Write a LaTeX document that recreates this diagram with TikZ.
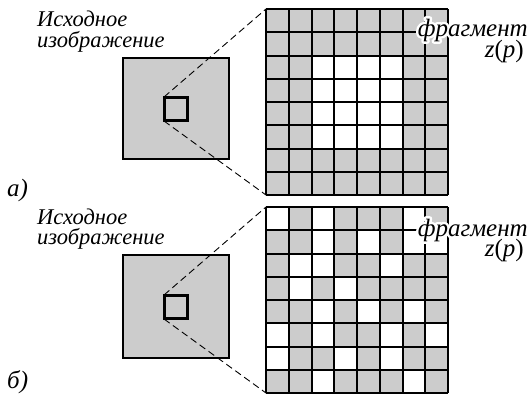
\documentclass[tikz,border=0pt]{standalone}
\usepackage{fontspec}
\setmainfont{Liberation Serif}
\definecolor{cellgray}{RGB}{204,204,204}
\tikzset{
  txt/.style={inner sep=0pt, font=\fontsize{22.5}{24}\selectfont\itshape},
  bigtxt/.style={inner sep=0pt, font=\fontsize{25}{27}\selectfont\itshape},
  bigsq/.style={draw=black, line width=2pt, fill=cellgray},
  smallsq/.style={draw=black, line width=2pt},
  gridline/.style={draw=black, line width=2pt},
  zoomline/.style={draw=black, line width=0.9pt, dash pattern=on 7pt off 4pt},
}
% text with a white outline (halo) drawn in one node
\newcommand{\halo}[1]{%
  \rlap{\color{white}\special{pdf:code q 2 Tr 1 1 1 RG 5 w 1 j 1 J}#1\special{pdf:code Q}}#1}
\begin{document}
\begin{tikzpicture}[x=1pt,y=-1pt]
\useasboundingbox (0,0) rectangle (528,399);
\def\cw{22.75}
\def\ch{23.25}
% ---------- panel a ----------
\node[bigsq, minimum width=106pt, minimum height=101pt, inner sep=0pt, anchor=north west] (Sa) at (122,57) {};
\coordinate (GaTL) at (266,9);
\coordinate (GaBL) at (266,195);
\fill[cellgray] (266,9) rectangle (448,195);
\foreach \r in {3,...,6} \foreach \c in {3,...,6}
  \fill[white] ({266+(\c-1)*\cw},{9+(\r-1)*\ch}) rectangle ++(\cw,\ch);
\foreach \i in {0,...,8} {
  \draw[gridline] ({266+\i*\cw},9) -- ({266+\i*\cw},195);
  \draw[gridline] (266,{9+\i*\ch}) -- (448,{9+\i*\ch});
}
\node[smallsq, minimum width=22pt, minimum height=22pt, inner sep=0pt, anchor=north west] (sa) at (164,97) {};
\draw[zoomline] (sa.north west) -- (GaTL);
\draw[zoomline] (sa.south west) -- (GaBL);
\draw[smallsq] (sa.north west) rectangle (sa.south east);
\node[txt, anchor=base west] (ia1) at (37,26) {Исходное};
\node[txt, anchor=base west] (ia2) at (37,47) {изображение};
\node[bigtxt, anchor=base east] (fa) at (528,36) {\halo{фрагмент}};
\node[bigtxt, anchor=base east] (za) at (524,57) {z\upshape(\itshape p\upshape)};
\node[bigtxt, anchor=base west] (la) at (7,196) {а)};
% ---------- panel b ----------
\node[bigsq, minimum width=106pt, minimum height=103pt, inner sep=0pt, anchor=north west] (Sb) at (122,254) {};
\coordinate (GbTL) at (266,207);
\coordinate (GbBL) at (266,393);
\fill[cellgray] (266,207) rectangle (448,393);
\foreach \r/\c in {1/1,1/3,1/7,2/3,2/5,2/7,2/8,3/2,3/3,3/6,4/2,4/4,5/3,5/5,5/7,6/1,6/3,6/6,6/8,7/1,7/4,7/6,8/3,8/7}
  \fill[white] ({266+(\c-1)*\cw},{207+(\r-1)*\ch}) rectangle ++(\cw,\ch);
\foreach \i in {0,...,8} {
  \draw[gridline] ({266+\i*\cw},207) -- ({266+\i*\cw},393);
  \draw[gridline] (266,{207+\i*\ch}) -- (448,{207+\i*\ch});
}
\node[smallsq, minimum width=22pt, minimum height=22pt, inner sep=0pt, anchor=north west] (sb) at (164,295) {};
\draw[zoomline] (sb.north west) -- (GbTL);
\draw[zoomline] (sb.south west) -- (GbBL);
\draw[smallsq] (sb.north west) rectangle (sb.south east);
\node[txt, anchor=base west] (ib1) at (37,224) {Исходное};
\node[txt, anchor=base west] (ib2) at (37,244) {изображение};
\node[bigtxt, anchor=base east] (fb) at (528,236) {\halo{фрагмент}};
\node[bigtxt, anchor=base east] (zb) at (524,256) {z\upshape(\itshape p\upshape)};
\node[bigtxt, anchor=base west] (lb) at (7,388) {б)};
\end{tikzpicture}
\end{document}
